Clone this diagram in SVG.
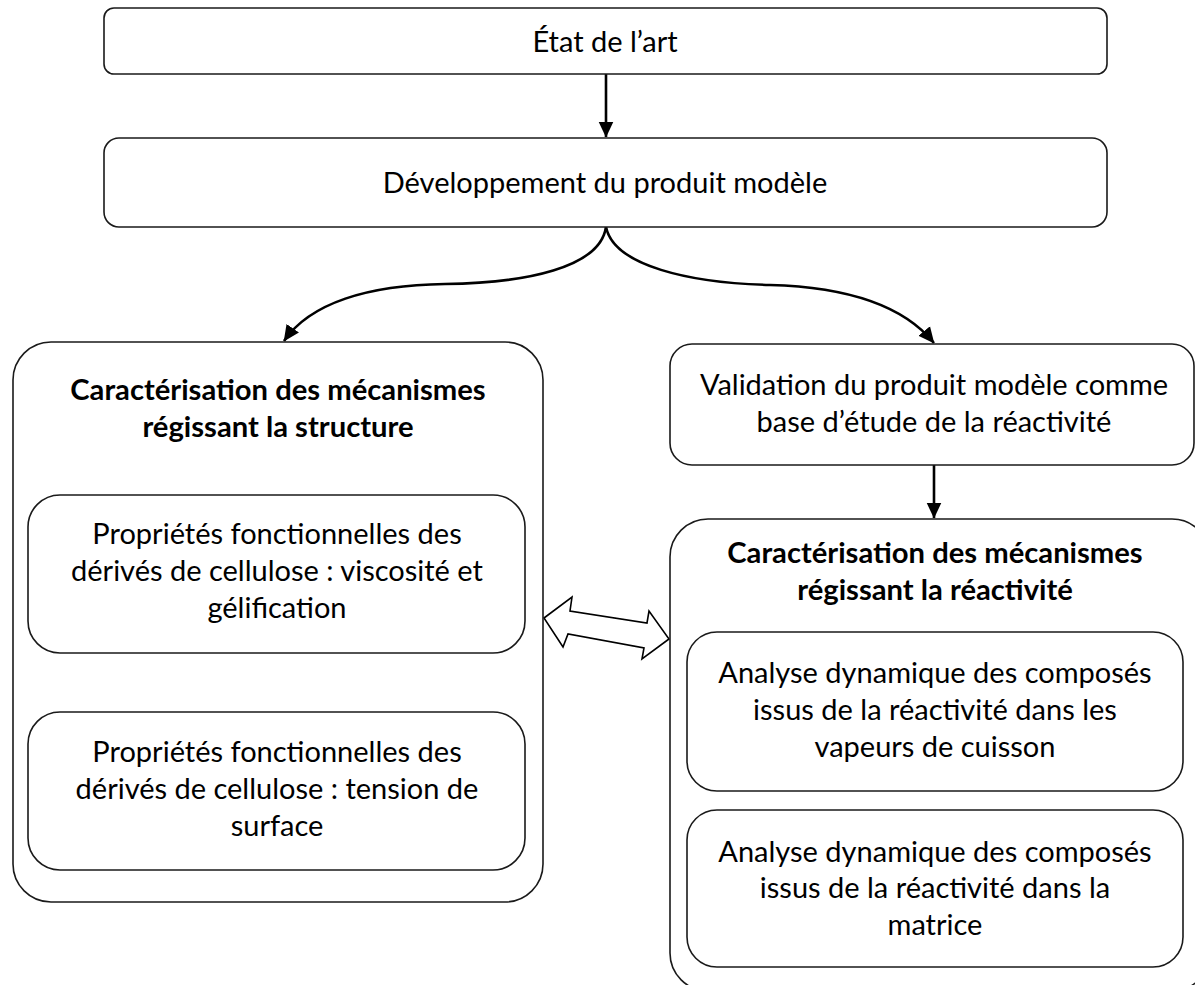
<svg xmlns="http://www.w3.org/2000/svg" width="1195" height="985" viewBox="0 0 1195 985">
<style>
.box{fill:#fff;stroke:#1a1a1a;stroke-width:1.6}
.t{font-family:Lato,"Open Sans",sans-serif;font-size:29px;fill:#000;text-anchor:middle}
.b{font-weight:bold;font-size:29.2px}
.c{fill:none;stroke:#000;stroke-width:2.6}
</style>
<defs>
<marker id="ah" markerUnits="userSpaceOnUse" markerWidth="16" markerHeight="16" viewBox="0 0 16 16" refX="15.5" refY="8" orient="auto">
<path d="M0,0.5 L16,8 L0,15.5 Z" fill="#000"/>
</marker>
</defs>
<rect width="1195" height="985" fill="#fff"/>
<g id="connectors">
<path class="c" d="M606,74 L606,137" marker-end="url(#ah)"/>
<path class="c" d="M606,227 C600,268 525,283 445,284 C368,285 310,303 284,341" marker-end="url(#ah)"/>
<path class="c" d="M606,227 C614,266 690,283 770,285 C845,287 903,305 934,343" marker-end="url(#ah)"/>
<path class="c" d="M934,465 L934,518" marker-end="url(#ah)"/>
<path d="M544,618 L572,597 L570,611 L647,623 L649,611 L669,639 L642,659 L644,648 L568,634 L563,647 Z" fill="#fff" stroke="#000" stroke-width="1.6" stroke-linejoin="miter"/>
</g>
<g id="etat">
<rect class="box" x="104" y="8" width="1003" height="66" rx="10"/>
<text class="t" x="605" y="52">État de l’art</text>
</g>
<g id="developpement">
<rect class="box" x="104" y="138" width="1003" height="89" rx="15"/>
<text class="t" x="605" y="193">Développement du produit modèle</text>
</g>
<g id="structure">
<rect class="box" x="13" y="342" width="530" height="560" rx="38"/>
<text class="t b" x="278" y="400">Caractérisation des mécanismes</text>
<text class="t b" x="278" y="437">régissant la structure</text>
</g>
<g id="viscosite">
<rect class="box" x="28" y="495" width="497" height="158" rx="32"/>
<text class="t" x="277" y="544">Propriétés fonctionnelles des</text>
<text class="t" x="277" y="581">dérivés de cellulose : viscosité et</text>
<text class="t" x="277" y="618">gélification</text>
</g>
<g id="tension">
<rect class="box" x="28" y="712" width="497" height="158" rx="32"/>
<text class="t" x="277" y="762">Propriétés fonctionnelles des</text>
<text class="t" x="277" y="799">dérivés de cellulose : tension de</text>
<text class="t" x="277" y="836">surface</text>
</g>
<g id="validation">
<rect class="box" x="670" y="344" width="524" height="121" rx="22"/>
<text class="t" x="934" y="395">Validation du produit modèle comme</text>
<text class="t" x="934" y="432">base d’étude de la réactivité</text>
</g>
<g id="reactivite">
<rect class="box" x="670" y="519" width="540" height="472" rx="38"/>
<text class="t b" x="935" y="563">Caractérisation des mécanismes</text>
<text class="t b" x="935" y="600">régissant la réactivité</text>
</g>
<g id="vapeurs">
<rect class="box" x="687" y="632" width="496" height="159" rx="30"/>
<text class="t" x="935" y="683">Analyse dynamique des composés</text>
<text class="t" x="935" y="720">issus de la réactivité dans les</text>
<text class="t" x="935" y="757">vapeurs de cuisson</text>
</g>
<g id="matrice">
<rect class="box" x="687" y="810" width="496" height="157" rx="30"/>
<text class="t" x="935" y="862">Analyse dynamique des composés</text>
<text class="t" x="935" y="898">issus de la réactivité dans la</text>
<text class="t" x="935" y="935">matrice</text>
</g>
</svg>
